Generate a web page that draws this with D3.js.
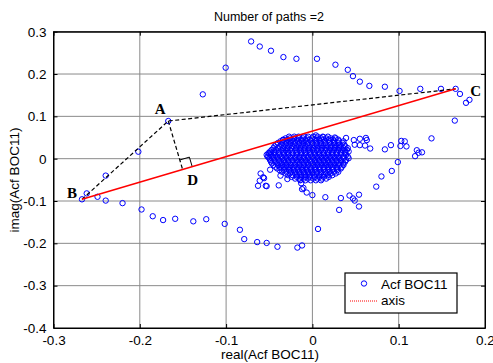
<!DOCTYPE html>
<html>
<head>
<meta charset="utf-8">
<script src="https://cdn.jsdelivr.net/npm/d3@7"></script>
<style>
  body { margin: 0; background: #fff; }
  svg { display: block; }
  text { font-family: "Liberation Sans", Arial, sans-serif; }
</style>
</head>
<body>
<div id="container"></div>
<script>
// tick values / labels
const xTicks = [-0.3, -0.2, -0.1, 0, 0.1, 0.2];
const xTickLabels = ["-0.3", "-0.2", "-0.1", "0", "0.1", "0.2"];
const yTicks = [-0.4, -0.3, -0.2, -0.1, 0, 0.1, 0.2, 0.3];
const yTickLabels = ["-0.4", "-0.3", "-0.2", "-0.1", "0", "0.1", "0.2", "0.3"];

// scattered samples (real, imag) around the path
const outerPts = [
  [-0.167, 0.089], [-0.127, 0.152], [-0.1005, 0.215], [-0.071, 0.277], [-0.061, 0.265],
  [-0.048, 0.255], [-0.0336, 0.240], [-0.0185, 0.236], [0.0053, 0.236], [0.0267, 0.222],
  [0.041, 0.210], [0.047, 0.195], [0.055, 0.182], [0.066, 0.172], [0.084, 0.170],
  [0.101, 0.160], [0.125, 0.165], [0.149, 0.165], [0.166, 0.165], [0.171, 0.153],
  [0.178, 0.132], [0.182, 0.139], [0.165, 0.090],
  [0.138, 0.048], [0.103, 0.042], [0.107, 0.041], [0.102, 0.030], [0.109, 0.029],
  [0.091, 0.032], [0.084, 0.022], [0.121, 0.020], [0.123, 0.014], [0.127, 0.015],
  [0.119, 0.006], [0.099, -0.008], [0.092, -0.029], [0.080, -0.042], [0.074, -0.066],
  [0.054, -0.085], [0.043, -0.087], [0.047, -0.094], [0.049, -0.099], [0.054, -0.113],
  [0.033, -0.093], [0.031, -0.121], [0.015, -0.091], [0.0, -0.086], [0.0065, -0.166],
  [-0.012, -0.205], [-0.0174, -0.210],
  [-0.267, -0.096], [-0.2615, -0.082], [-0.249, -0.090], [-0.2395, -0.040], [-0.2017, 0.0165],
  [-0.2395, -0.099], [-0.220, -0.105], [-0.198, -0.120], [-0.185, -0.136], [-0.173, -0.145],
  [-0.159, -0.142], [-0.138, -0.148], [-0.123, -0.143], [-0.1016, -0.154], [-0.084, -0.168],
  [-0.079, -0.190], [-0.064, -0.197], [-0.053, -0.199], [-0.0405, -0.208],
  [-0.060, -0.035], [-0.057, -0.044], [-0.061, -0.052], [-0.063, -0.064], [-0.054, -0.064],
  [-0.039, -0.063], [-0.049, -0.026], [-0.037, -0.040], [-0.029, -0.048], [-0.014, -0.050],
  [-0.013, -0.058], [-0.012, -0.072], [-0.0104, -0.069], [-0.0066, -0.080], [-0.056, -0.046],
  [-0.053, -0.065], [-0.051, 0.013], [-0.052, 0.005], [-0.048, 0.014], [-0.034, 0.044],
  [0.004, 0.055], [0.0127, 0.051], [0.026, 0.050], [0.039, 0.049], [0.048, 0.044],
  [0.055, 0.047], [0.062, 0.049], [0.063, 0.044], [0.067, 0.024], [0.049, 0.033],
  [0.055, 0.032], [0.061, 0.031]
];

// dense cluster near the origin, one row per imag value
const blobRows = [
  [0.052, [-0.027, -0.021, -0.016, -0.010, -0.005, 0.001, 0.006, 0.012, 0.018]],
  [0.048, [-0.031, -0.026, -0.021, -0.016, -0.011, -0.006, 0.000, 0.005, 0.010, 0.016, 0.021, 0.027]],
  [0.045, [-0.034, -0.029, -0.024, -0.018, -0.013, -0.008, -0.003, 0.003, 0.008, 0.013, 0.019, 0.024, 0.030]],
  [0.041, [-0.037, -0.032, -0.027, -0.022, -0.017, -0.012, -0.007, -0.001, 0.004, 0.009, 0.014, 0.020, 0.025, 0.031, 0.036]],
  [0.037, [-0.040, -0.035, -0.030, -0.025, -0.020, -0.015, -0.010, -0.005, 0.000, 0.005, 0.010, 0.015, 0.020, 0.025, 0.030, 0.035]],
  [0.033, [-0.042, -0.036, -0.031, -0.026, -0.021, -0.016, -0.011, -0.006, 0.000, 0.005, 0.010, 0.016, 0.021, 0.026, 0.031, 0.037]],
  [0.029, [-0.044, -0.038, -0.033, -0.028, -0.023, -0.018, -0.013, -0.008, -0.003, 0.003, 0.008, 0.013, 0.018, 0.023, 0.028, 0.033, 0.038]],
  [0.025, [-0.045, -0.040, -0.034, -0.029, -0.024, -0.019, -0.014, -0.009, -0.004, 0.001, 0.006, 0.011, 0.016, 0.021, 0.026, 0.031, 0.036, 0.041]],
  [0.021, [-0.047, -0.042, -0.036, -0.031, -0.026, -0.020, -0.015, -0.010, -0.005, 0.000, 0.005, 0.010, 0.015, 0.020, 0.025, 0.030, 0.035, 0.040]],
  [0.017, [-0.049, -0.044, -0.039, -0.034, -0.029, -0.024, -0.018, -0.013, -0.008, -0.003, 0.002, 0.007, 0.012, 0.018, 0.023, 0.028, 0.033, 0.038, 0.042]],
  [0.013, [-0.050, -0.044, -0.039, -0.033, -0.028, -0.023, -0.018, -0.013, -0.008, -0.003, 0.003, 0.008, 0.013, 0.018, 0.023, 0.028, 0.033, 0.038]],
  [0.009, [-0.053, -0.048, -0.043, -0.038, -0.033, -0.028, -0.023, -0.018, -0.013, -0.007, -0.002, 0.003, 0.008, 0.013, 0.018, 0.023, 0.028, 0.033, 0.039]],
  [0.005, [-0.051, -0.046, -0.041, -0.036, -0.031, -0.026, -0.020, -0.015, -0.010, -0.005, 0.000, 0.005, 0.010, 0.015, 0.020, 0.025, 0.030, 0.036, 0.041]],
  [0.001, [-0.050, -0.045, -0.040, -0.035, -0.030, -0.025, -0.020, -0.015, -0.010, -0.005, 0.001, 0.006, 0.011, 0.016, 0.021, 0.026, 0.031, 0.036, 0.042]],
  [-0.003, [-0.049, -0.044, -0.039, -0.033, -0.028, -0.023, -0.018, -0.013, -0.008, -0.003, 0.003, 0.008, 0.013, 0.018, 0.023, 0.028, 0.033, 0.039]],
  [-0.007, [-0.048, -0.043, -0.038, -0.033, -0.028, -0.023, -0.017, -0.012, -0.007, -0.002, 0.003, 0.008, 0.013, 0.018, 0.023, 0.028, 0.033, 0.038]],
  [-0.011, [-0.047, -0.041, -0.036, -0.031, -0.026, -0.020, -0.015, -0.010, -0.005, 0.000, 0.005, 0.010, 0.015, 0.020, 0.025, 0.030, 0.036]],
  [-0.015, [-0.045, -0.040, -0.035, -0.030, -0.025, -0.020, -0.015, -0.010, -0.005, 0.001, 0.006, 0.011, 0.016, 0.021, 0.026, 0.031, 0.036]],
  [-0.019, [-0.043, -0.038, -0.033, -0.028, -0.023, -0.018, -0.013, -0.008, -0.003, 0.003, 0.008, 0.013, 0.018, 0.023, 0.028, 0.034]],
  [-0.023, [-0.041, -0.036, -0.031, -0.026, -0.021, -0.016, -0.011, -0.006, -0.001, 0.004, 0.009, 0.014, 0.019, 0.024, 0.029, 0.033]],
  [-0.027, [-0.038, -0.033, -0.027, -0.022, -0.017, -0.012, -0.007, -0.002, 0.003, 0.008, 0.013, 0.018, 0.023, 0.029]],
  [-0.031, [-0.035, -0.030, -0.025, -0.020, -0.015, -0.010, -0.005, 0.000, 0.005, 0.010, 0.015, 0.020, 0.025, 0.030]],
  [-0.035, [-0.031, -0.026, -0.020, -0.015, -0.010, -0.005, 0.000, 0.005, 0.010, 0.016, 0.021, 0.027]],
  [-0.039, [-0.028, -0.023, -0.018, -0.013, -0.008, -0.003, 0.002, 0.008, 0.013, 0.018, 0.023]],
  [-0.043, [-0.024, -0.018, -0.013, -0.008, -0.003, 0.003, 0.008, 0.013, 0.019]],
  [-0.047, [-0.020, -0.015, -0.010, -0.005, 0.001, 0.006, 0.011, 0.016]],
  [-0.051, [-0.014, -0.008, -0.002, 0.004, 0.010]]
];

// labelled points
const ptA = [-0.167, 0.089];
const ptB = [-0.267, -0.096];
const ptC = [0.166, 0.165];

const width = 493, height = 363;
const x = d3.scaleLinear().domain([-0.3, 0.2]).range([53.5, 485]);
const y = d3.scaleLinear().domain([-0.4, 0.3]).range([328, 31.7]);
const [x0, x1] = x.range();
const [y0, y1] = y.range();

const svg = d3.select("#container").append("svg")
  .attr("width", width).attr("height", height);

// grid
svg.append("g").selectAll("line").data(xTicks.slice(1, -1)).enter().append("line")
  .attr("x1", d => x(d)).attr("x2", d => x(d)).attr("y1", y1).attr("y2", y0)
  .attr("stroke", "#8a8a8a").attr("stroke-width", 1);
svg.append("g").selectAll("line").data(yTicks.slice(1, -1)).enter().append("line")
  .attr("y1", d => y(d)).attr("y2", d => y(d)).attr("x1", x0).attr("x2", x1)
  .attr("stroke", "#8a8a8a").attr("stroke-width", 1);

// axes (ticks inward, MATLAB style)
const xAxis = d3.axisBottom(x).tickValues(xTicks).tickFormat((d, i) => xTickLabels[i]).tickSizeInner(-4).tickSizeOuter(0).tickPadding(7);
const yAxis = d3.axisLeft(y).tickValues(yTicks).tickFormat((d, i) => yTickLabels[i]).tickSizeInner(-4).tickSizeOuter(0).tickPadding(7);
svg.append("g").attr("transform", "translate(0," + y0 + ")").call(xAxis);
svg.append("g").attr("transform", "translate(" + x0 + ",0)").call(yAxis);
svg.append("g").attr("transform", "translate(0," + y1 + ")")
  .call(d3.axisTop(x).tickValues(xTicks).tickFormat("").tickSizeInner(-4).tickSizeOuter(0));
svg.append("g").attr("transform", "translate(" + x1 + ",0)")
  .call(d3.axisRight(y).tickValues(yTicks).tickFormat("").tickSizeInner(-4).tickSizeOuter(0));
svg.selectAll(".domain").attr("stroke", "#000");
svg.selectAll(".tick line").attr("stroke", "#000");
svg.selectAll(".tick text").attr("font-size", 13.5).attr("fill", "#000")
  .style("font-family", "'Liberation Sans', Arial, sans-serif");

// box
svg.append("rect").attr("x", x0).attr("y", y1).attr("width", x1 - x0).attr("height", y0 - y1)
  .attr("fill", "none").attr("stroke", "#000").attr("stroke-width", 1);

// samples
const allPts = outerPts.slice();
blobRows.forEach(r => r[1].forEach(re => allPts.push([re, r[0]])));
svg.append("g").selectAll("circle").data(allPts).enter().append("circle")
  .attr("cx", d => x(d[0])).attr("cy", d => y(d[1])).attr("r", 2.7)
  .attr("fill", "none").attr("stroke", "#0000ff").attr("stroke-width", 1);

// dashed construction lines
const line = d3.line().x(d => x(d[0])).y(d => y(d[1]));
svg.append("path").attr("d", line([ptB, ptA, ptC]))
  .attr("fill", "none").attr("stroke", "#000").attr("stroke-width", 1.2).attr("stroke-dasharray", "4,2.5");

// foot of perpendicular from A onto BC (pixel space)
const pB = [x(ptB[0]), y(ptB[1])], pC = [x(ptC[0]), y(ptC[1])], pA = [x(ptA[0]), y(ptA[1])];
const len = Math.hypot(pC[0] - pB[0], pC[1] - pB[1]);
const u = [(pC[0] - pB[0]) / len, (pC[1] - pB[1]) / len];
const t = (pA[0] - pB[0]) * u[0] + (pA[1] - pB[1]) * u[1];
const pD = [pB[0] + t * u[0], pB[1] + t * u[1]];
const dn = Math.hypot(pA[0] - pD[0], pA[1] - pD[1]);
const n = [(pA[0] - pD[0]) / dn, (pA[1] - pD[1]) / dn];
svg.append("path").attr("d", d3.line()([pA, pD]))
  .attr("fill", "none").attr("stroke", "#000").attr("stroke-width", 1.2).attr("stroke-dasharray", "4,2.5");
const s = 10;
svg.append("path").attr("d", d3.line()([
    [pD[0] + s * u[0], pD[1] + s * u[1]],
    [pD[0] + s * u[0] + s * n[0], pD[1] + s * u[1] + s * n[1]],
    [pD[0] + s * n[0], pD[1] + s * n[1]]
  ]))
  .attr("fill", "none").attr("stroke", "#000").attr("stroke-width", 1);

// axis line B-C
svg.append("path").attr("d", line([ptB, ptC]))
  .attr("fill", "none").attr("stroke", "#ff0000").attr("stroke-width", 1.5);

// point labels
const serif = "'Liberation Serif', 'Times New Roman', serif";
[["A", pA[0] - 8, pA[1] - 7], ["B", pB[0] - 10, pB[1] - 1], ["C", pC[0] + 20, pC[1] + 7], ["D", pD[0] + 10, pD[1] + 15]]
  .forEach(l => svg.append("text").text(l[0]).attr("x", l[1]).attr("y", l[2])
    .attr("text-anchor", "middle").attr("font-size", 15).attr("font-weight", "bold")
    .style("font-family", serif));

// title and axis labels
svg.append("text").text("Number of paths =2").attr("x", 269).attr("y", 21)
  .attr("text-anchor", "middle").attr("font-size", 12.5);
svg.append("text").text("real(Acf BOC11)").attr("x", 270).attr("y", 359)
  .attr("text-anchor", "middle").attr("font-size", 13.5);
svg.append("text").text("imag(Acf BOC11)")
  .attr("transform", "translate(19,180) rotate(-90)")
  .attr("text-anchor", "middle").attr("font-size", 13.5);

// legend
const lg = svg.append("g");
lg.append("rect").attr("x", 345).attr("y", 273).attr("width", 112).attr("height", 40)
  .attr("fill", "#fff").attr("stroke", "#000").attr("stroke-width", 1.2);
lg.append("circle").attr("cx", 364).attr("cy", 283.5).attr("r", 2.7)
  .attr("fill", "none").attr("stroke", "#0000ff");
lg.append("text").text("Acf BOC11").attr("x", 381).attr("y", 288.5).attr("font-size", 13.5);
lg.append("line").attr("x1", 350).attr("x2", 377).attr("y1", 301).attr("y2", 301)
  .attr("stroke", "#ff0000").attr("stroke-width", 1).attr("stroke-dasharray", "1,1");
lg.append("text").text("axis").attr("x", 381).attr("y", 305).attr("font-size", 13.5);
</script>
</body>
</html>
